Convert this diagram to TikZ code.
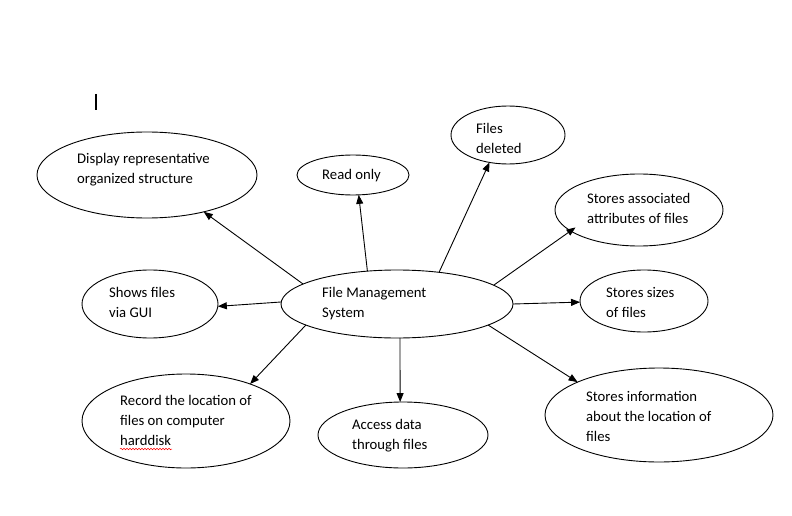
\documentclass[tikz,border=0pt]{standalone}
\usepackage{fontspec}
\setmainfont{Carlito}
\usetikzlibrary{shapes.geometric,arrows.meta,decorations.pathmorphing}
\tikzset{
  ell/.style={draw, ellipse, inner sep=0pt, outer sep=0pt, line width=0.9pt},
  txt/.style={anchor=north west, inner sep=0pt, align=left, font=\fontsize{14.7}{20}\selectfont},
  arr/.style={-{Triangle[length=9pt,width=7pt]}, line width=0.9pt}
}
\begin{document}
\begin{tikzpicture}[x=1pt,y=-1pt]
\useasboundingbox[fill=white] (0,0) rectangle (792,516);
% cursor mark
\draw[line width=1.8pt] (96,94) -- (96,110);
% ellipses
\node[ell, minimum width=232pt, minimum height=68pt] (fms) at (397,304) {};
\node[ell, minimum width=220pt, minimum height=86pt] (disp) at (147,175) {};
\node[ell, minimum width=112pt, minimum height=40pt] (read) at (353,175) {};
\node[ell, minimum width=114pt, minimum height=58pt] (del) at (508,135) {};
\node[ell, minimum width=168pt, minimum height=72pt] (assoc) at (639,210) {};
\node[ell, minimum width=128pt, minimum height=62pt] (sizes) at (644,301) {};
\node[ell, minimum width=228pt, minimum height=94pt] (info) at (659,415) {};
\node[ell, minimum width=170pt, minimum height=66pt] (access) at (403,435) {};
\node[ell, minimum width=208pt, minimum height=94pt] (record) at (186,421) {};
\node[ell, minimum width=136pt, minimum height=68pt] (shows) at (150,304) {};
% texts
\node[txt] (tfms) at (322,287) {File Management\\System};
\node[txt] (tdisp) at (77,153) {Display representative\\organized structure};
\node[txt] (tread) at (322,169) {Read only};
\node[txt] (tdel) at (476,123) {Files\\deleted};
\node[txt] (tassoc) at (587,193) {Stores associated\\attributes of files};
\node[txt] (tsizes) at (606,287) {Stores sizes\\of files};
\node[txt] (tinfo) at (586,391) {Stores information\\about the location of\\files};
\node[txt] (taccess) at (352,419) {Access data\\through files};
\node[txt] (trecord) at (120,395) {Record the location of\\files on computer\\harddisk};
\node[txt] (tshows) at (109,287) {Shows files\\via GUI};
% spell-check underline
\coordinate (wl) at (120,449);
\coordinate (wr) at (172,449);
\draw[red, line width=0.5pt, decorate, decoration={snake, segment length=3pt, amplitude=0.8pt}] (wl) -- (wr);
% arrows
\draw[arr] (fms.168) -- (disp.327);
\draw[arr] (fms.132) -- (read.286);
\draw[arr] (fms.37) -- (del.236);
\draw[arr, shorten >=-6pt] (fms.11) -- (assoc.197);
\draw[arr] (fms.0) -- (sizes.181);
\draw[arr] (fms.347) -- (info.158);
\draw[arr] (fms.275) -- (access.95);
\draw[arr] (fms.193) -- (record.30);
\draw[arr] (fms.179) -- (shows.358);
\end{tikzpicture}
\end{document}
